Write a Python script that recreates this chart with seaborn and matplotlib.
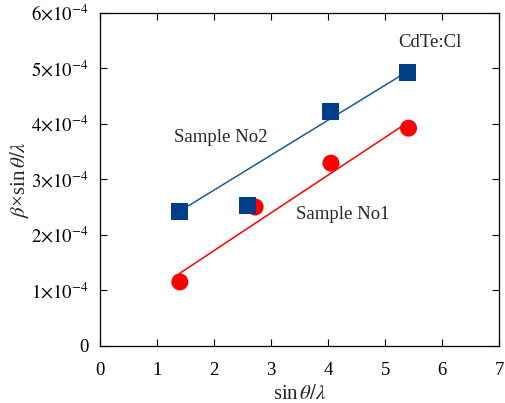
import numpy as np
import pandas as pd
import seaborn as sns
import matplotlib.pyplot as plt
from matplotlib.ticker import FuncFormatter

# data (y values in units of 1e-4)
no2_x = [1.39, 2.58, 4.05, 5.39]
no2_y = [2.42, 2.52, 4.22, 4.92]
no1_x = [1.40, 2.72, 4.05, 5.41]
no1_y = [1.15, 2.50, 3.29, 3.92]

# straight lines drawn through the data
no2_fit_x = [1.39, 5.39]
no2_fit_y = [2.42, 4.94]
no1_fit_x = [1.39, 5.39]
no1_fit_y = [1.30, 4.02]

x_ticks = [0, 1, 2, 3, 4, 5, 6, 7]
y_ticks = [0, 1, 2, 3, 4, 5, 6]

sns.set_style("ticks")
plt.rcParams["font.family"] = ["Liberation Serif", "DejaVu Serif"]
plt.rcParams["mathtext.fontset"] = "stix"

fig = plt.figure(figsize=(5.06, 4.03), dpi=100)
ax = fig.add_axes([0.1976, 0.142, 0.789, 0.8265])

df1 = pd.DataFrame({"x": no1_x, "y": np.array(no1_y) * 1e-4})
df2 = pd.DataFrame({"x": no2_x, "y": np.array(no2_y) * 1e-4})

sns.lineplot(x=no1_fit_x, y=np.array(no1_fit_y) * 1e-4, color="#ff0000", lw=1.1, ax=ax)
sns.lineplot(x=no2_fit_x, y=np.array(no2_fit_y) * 1e-4, color="#1a5a9c", lw=1.1, ax=ax)
sns.scatterplot(data=df1, x="x", y="y", marker="o", s=150, color="#ff0000",
                edgecolor="none", ax=ax, zorder=3)
sns.scatterplot(data=df2, x="x", y="y", marker="s", s=150, color="#003f87",
                edgecolor="none", ax=ax, zorder=4)

ax.set_xlim(0, 7)
ax.set_ylim(0, 6e-4)
ax.set_xticks(x_ticks)
ax.set_yticks([v * 1e-4 for v in y_ticks])


def fmt(v, pos):
    n = int(round(v * 1e4))
    if n == 0:
        return "0"
    return r"$%d{\times}10^{-4}$" % n


ax.yaxis.set_major_formatter(FuncFormatter(fmt))
ax.tick_params(direction="in", top=True, right=True, length=5, width=0.8,
               labelsize=13.5, colors="black", pad=8)
ax.tick_params(axis="x", pad=12)
for s in ax.spines.values():
    s.set_visible(True)
    s.set_linewidth(0.9)
    s.set_color("black")

ax.set_xlabel(r"sin$\,\mathit{\theta/\lambda}$", fontsize=15, labelpad=4)
ax.set_ylabel(r"$\mathit{\beta}$×sin$\,\mathit{\theta/\lambda}$", fontsize=15, labelpad=0)

ax.text(5.79, 5.47e-4, "CdTe:Cl", fontsize=13.5, ha="center", va="center")
ax.text(2.12, 3.76e-4, "Sample No2", fontsize=13.5, ha="center", va="center")
ax.text(4.26, 2.37e-4, "Sample No1", fontsize=13.5, ha="center", va="center")

fig.savefig("out.png", dpi=100)
